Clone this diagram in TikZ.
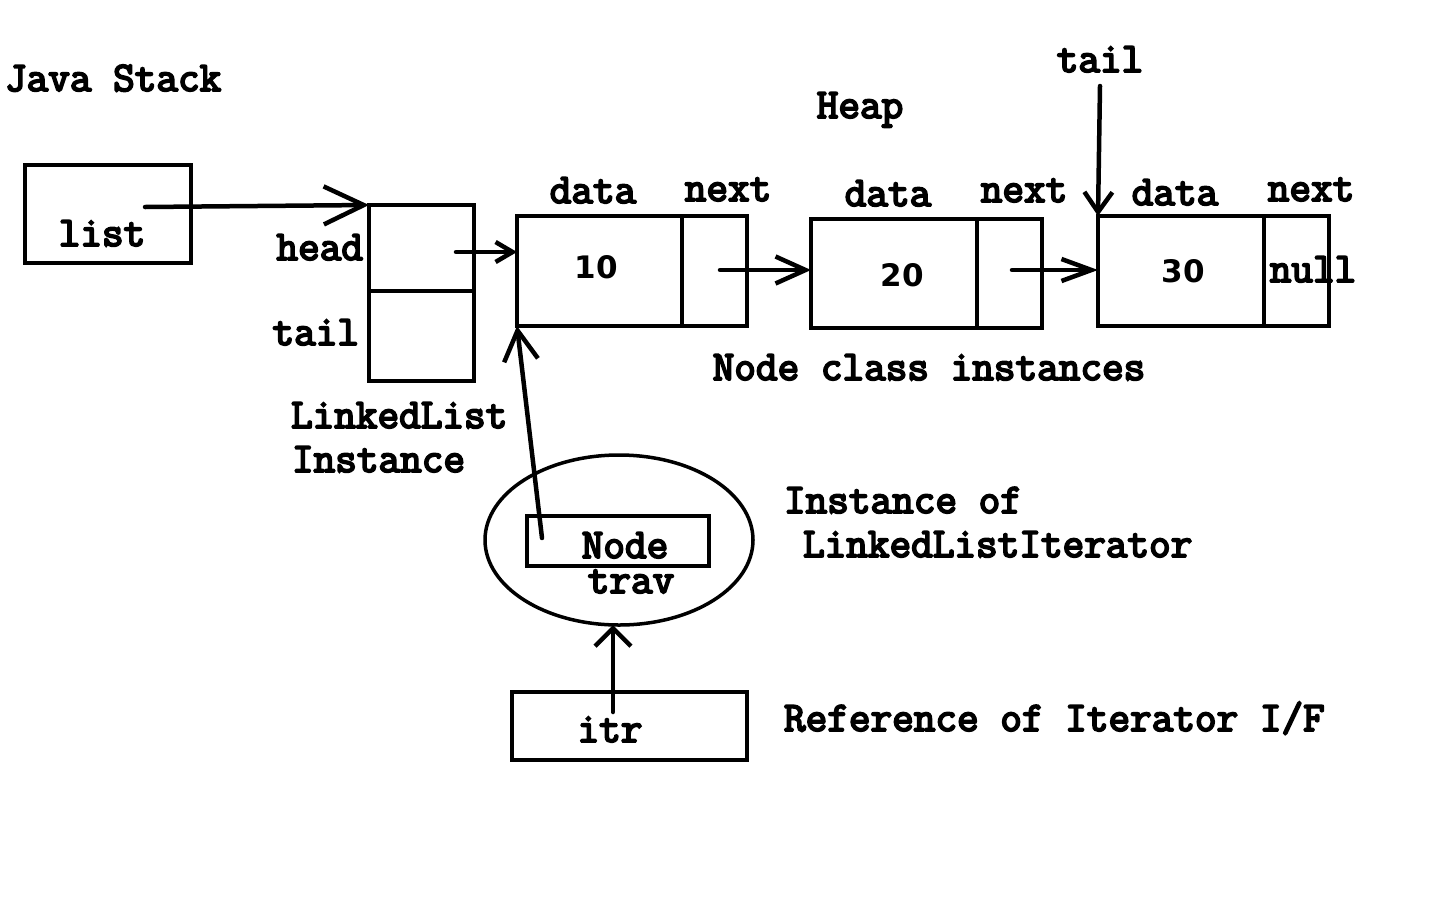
\documentclass[tikz,border=0pt]{standalone}
\usepackage{fontspec}
\usetikzlibrary{arrows.meta,shapes.geometric}
\newfontfamily\digf{DejaVu Sans}
\newfontfamily\lmf{Latin Modern Mono}[FakeBold=4.5]
\begin{document}
\begin{tikzpicture}[x=1pt,y=-1pt,
  every node/.style={inner sep=0pt,outer sep=0pt},
  lbl/.style={font=\lmf\fontsize{42}{44}\selectfont},
  num/.style={font=\digf\bfseries\fontsize{31}{34}\selectfont},
  cell/.style={draw,line width=4.5pt,rectangle},
  arr/.style 2 args={line width=4.5pt,line cap=round,line join=round,-{Straight Barb[length=#1pt,width=#2pt,line width=4.5pt]}}]
\useasboundingbox (0,0) rectangle (1440,900);
\fill[white] (0,0) rectangle (1440,900);

% texts
\node[lbl,anchor=base west] (js) at (5,91) {Java Stack};
\node[lbl,anchor=base] (heap) at (860,118) {Heap};
\node[lbl,anchor=base] (tailtop) at (1100,72) {tail};

% list box
\node[cell,minimum width=166pt,minimum height=98pt] (list) at (108,214) {};
\node[lbl,anchor=base] (listt) at (102,246) {list};

% LinkedList instance
\node[cell,minimum width=105pt,minimum height=86pt] (llh) at (421.5,248) {};
\node[cell,minimum width=105pt,minimum height=90pt] (llt) at (421.5,336) {};
\node[lbl,anchor=base east] (headt) at (363,260) {head};
\node[lbl,anchor=base east] (tailt) at (359,345) {tail};
\node[lbl,anchor=base west] (lli1) at (291,428) {LinkedList};
\node[lbl,anchor=base west] (lli2) at (292,472) {Instance};

% node 1
\node[cell,minimum width=165pt,minimum height=110pt] (n1d) at (599.5,271) {};
\node[cell,minimum width=65pt,minimum height=110pt] (n1n) at (714.5,271) {};
\node[num,anchor=base] at (596,278) {10};
\node[lbl,anchor=base] at (593,203) {data};
\node[lbl,anchor=base] at (728,201) {next};

% node 2
\node[cell,minimum width=166pt,minimum height=109pt] (n2d) at (894,273.5) {};
\node[cell,minimum width=65pt,minimum height=109pt] (n2n) at (1009.5,273.5) {};
\node[num,anchor=base] at (902,286) {20};
\node[lbl,anchor=base] at (888,206) {data};
\node[lbl,anchor=base] at (1024,202) {next};

% node 3
\node[cell,minimum width=166pt,minimum height=110pt] (n3d) at (1181,271) {};
\node[cell,minimum width=65pt,minimum height=110pt] (n3n) at (1296.5,271) {};
\node[num,anchor=base] at (1183,282) {30};
\node[lbl,anchor=base] at (1313,282) {null};
\node[lbl,anchor=base] at (1175,205) {data};
\node[lbl,anchor=base] at (1311,201) {next};

\node[lbl,anchor=base] (nci) at (929,380) {Node class instances};

% iterator
\node[draw,ellipse,line width=3.5pt,minimum width=268pt,minimum height=170pt] (ell) at (619,540) {};
\node[cell,line width=3.5pt,minimum width=182pt,minimum height=50pt] (trav) at (618,541) {};
\node[lbl,anchor=base] at (625,558) {Node};
\node[lbl,anchor=base] at (631,593) {trav};
\node[lbl,anchor=base west] at (784,513) {Instance of};
\node[lbl,anchor=base west] at (803,557) {LinkedListIterator};

\node[cell,minimum width=235pt,minimum height=68pt] (itr) at (629.5,726) {};
\node[lbl,anchor=base] at (610,742) {itr};
\node[lbl,anchor=base west] at (784,731) {Reference of Iterator I/F};

% connector start points
\coordinate (listp) at (145,207);
\coordinate (headp) at (456,252);
\coordinate (n1p) at (720,270);
\coordinate (n2p) at (1012,270);
\coordinate (tailp) at (1100,86);
\coordinate (travp) at (542,538);
\coordinate (itrp) at (613,712);

% connectors
\draw[arr={40}{38}] (listp) -- (llh.north west);
\draw[arr={17}{20}] (headp) -- (headp -| n1d.west);
\draw[arr={30}{27}] (n1p) -- (n1p -| n2d.west);
\draw[arr={30}{22}] (n2p) -- (n2p -| n3d.west);
\draw[arr={20}{28}] (tailp) -- (n3d.north west);
\draw[arr={30}{34}] (travp) -- (n1d.south west);
\draw[arr={18}{36}] (itrp) -- (itrp |- ell.south);
\end{tikzpicture}
\end{document}
